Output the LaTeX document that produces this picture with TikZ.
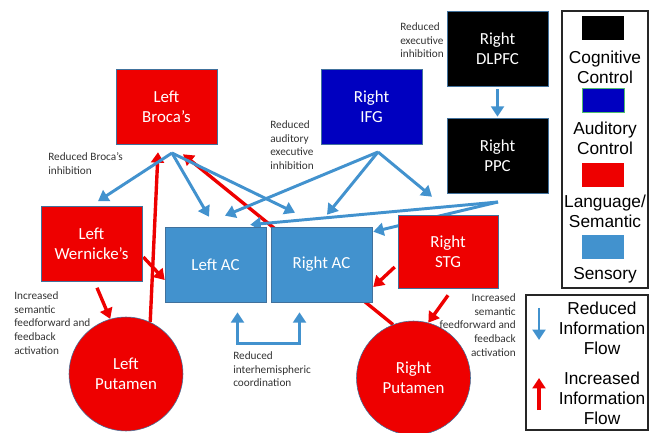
\documentclass[tikz,border=0pt]{standalone}
\usepackage{fontspec}
\setmainfont{Carlito}
\newfontfamily\legfont{Liberation Sans}
\usetikzlibrary{arrows.meta,calc}
\definecolor{langred}{RGB}{238,0,0}
\definecolor{audblue}{RGB}{0,0,192}
\definecolor{sensblue}{RGB}{66,146,206}
\definecolor{edgeblue}{RGB}{65,113,156}
\definecolor{swgreen}{RGB}{80,190,110}
\pgfdeclarelayer{bg}
\pgfsetlayers{bg,main}

\begin{document}
\begin{tikzpicture}[x=0.25mm,y=-0.25mm,>={Triangle[length=2.6mm,width=3.2mm]},
  region/.style={draw=edgeblue,line width=0.4pt,text=white,minimum width=25.25mm,minimum height=18.75mm,inner sep=0pt,align=center,font=\fontsize{12}{14.5}\selectfont},
  nucleus/.style={circle,draw=edgeblue,line width=0.4pt,fill=langred,text=white,minimum size=28.5mm,inner sep=0pt,align=center,font=\fontsize{12}{14.5}\selectfont},
  note/.style={inner sep=0pt,align=left,text=black!80,font=\fontsize{8}{9.9}\selectfont},
  flow/.style={->,sensblue,line width=2.1pt},
  incr/.style={->,langred,line width=2.4pt},
  legtext/.style={inner sep=0pt,align=center,font=\legfont\fontsize{12.3}{14.2}\selectfont},
  swatch/.style={minimum width=10.5mm,minimum height=6mm,inner sep=0pt,line width=0.3pt}]
  \useasboundingbox (0,0) rectangle (656,433);
  % regions
  \node[region,fill=langred] (broca) at (166.5,106.5) {Left\\Broca's};
  \node[region,fill=audblue] (ifg) at (371.5,106.5) {Right\\IFG};
  \node[region,fill=black] (dlpfc) at (497.5,48.5) {Right\\DLPFC};
  \node[region,fill=black] (ppc) at (497.5,155.5) {Right\\PPC};
  \node[region,fill=langred] (wern) at (91.5,244) {Left\\Wernicke's};
  \node[region,fill=sensblue] (lac) at (215.5,264.5) {Left AC};
  \node[region,fill=sensblue] (rac) at (321.5,264.5) {Right AC};
  \node[region,fill=langred,minimum width=25mm,minimum height=18.25mm] (stg) at (448,251.5) {Right\\STG};
  \node[nucleus] (lput) at (126,374) {Left\\Putamen};
  \node[nucleus] (rput) at (413.5,378) {Right\\Putamen};
  % notes
  \node[note,anchor=north west] (nbroca) at (48,152) {Reduced Broca's\\inhibition};
  \node[note,anchor=north west] (naud) at (270,120) {Reduced\\auditory\\executive\\inhibition};
  \node[note,anchor=north west] (nexec) at (400,22) {Reduced\\executive\\inhibition};
  \node[note,anchor=north west] (nlsem) at (14,291) {Increased\\semantic\\feedforward and\\feedback\\activation};
  \node[note,anchor=north east,align=right] (nrsem) at (516,293) {Increased\\semantic\\feedforward and\\feedback\\activation};
  \node[note,anchor=north west] (ninter) at (233,351) {Reduced\\interhemispheric\\coordination};
  % hubs
  \coordinate (bh) at (172,153);
  \coordinate (ih) at (378,152);
  \coordinate (ph) at (498,202);
  \begin{pgfonlayer}{bg}
    % increased flow
    \draw[incr] (lput.65) -- ($(broca.south)+(-8.5,8)$);
    \draw[incr] (rput.111) -- ($(broca.south)+(16.5,10)$);
    \draw[incr] ($(wern.east)+(1,13)$) -- ($(lac.west)+(0,15.5)$);
    \draw[incr] ($(wern.south)+(5.5,6)$) -- (lput.106);
    \draw[incr] ($(stg.west)+(-3,15.5)$) -- ($(rac.east)+(1,22.5)$);
    \draw[incr] ($(stg.south)+(0,7)$) -- (rput.75);
    % reduced flow
    \draw[flow] (bh) -- ($(wern.north)+(6.5,-5)$);
    \draw[flow] (bh) -- ($(lac.north)+(-6.5,-10)$);
    \draw[flow] (bh) -- ($(rac.north)+(-26.5,-14)$);
    \draw[flow] (ih) -- ($(lac.north)+(9.5,-11)$);
    \draw[flow] (ih) -- ($(rac.north)+(5.5,-12)$);
    \draw[flow] (ih) -- ($(stg.north)+(-16,-18)$);
    \draw[flow] (ph) -- ($(lac.north east)+(-16,-2)$);
    \draw[flow] (ph) -- ($(rac.north east)+(1,5)$);
    \draw[flow] ($(dlpfc.south)+(0,3)$) -- ($(ppc.north)+(0,-1)$);
    \draw[flow,<->] ($(lac.south)+(22,10)$) |- ($(rac.south)+(-22,41)$) -- ($(rac.south)+(-22,10)$);
  \end{pgfonlayer}
  % legend: colours
  \draw[black!85,line width=2pt] (562,11) rectangle (648,288);
  \node[swatch,fill=black] (lgcog) at (603,28) {};
  \node[legtext] (tcog) at (605,67) {Cognitive\\Control};
  \node[swatch,fill=audblue,draw=swgreen] (lgaud) at (603,100.5) {};
  \node[legtext] (taud) at (605,138) {Auditory\\Control};
  \node[swatch,fill=langred] (lglang) at (603,175) {};
  \node[legtext] (tlang) at (605,211) {Language/\\Semantic};
  \node[swatch,fill=sensblue] (lgsens) at (603,247) {};
  \node[legtext] (tsens) at (605,275) {Sensory};
  % legend: arrows
  \draw[black!85,line width=2pt] (526,295) rectangle (648,430);
  \node[legtext] (tred) at (602,328) {Reduced\\Information\\Flow};
  \node[legtext] (tinc) at (602,398) {Increased\\Information\\Flow};
  \coordinate (ra) at (539,308);
  \coordinate (ia) at (539,410);
  \draw[flow] (ra) -- ++(0,32);
  \draw[incr] (ia) -- ++(0,-32);
\end{tikzpicture}
\end{document}
